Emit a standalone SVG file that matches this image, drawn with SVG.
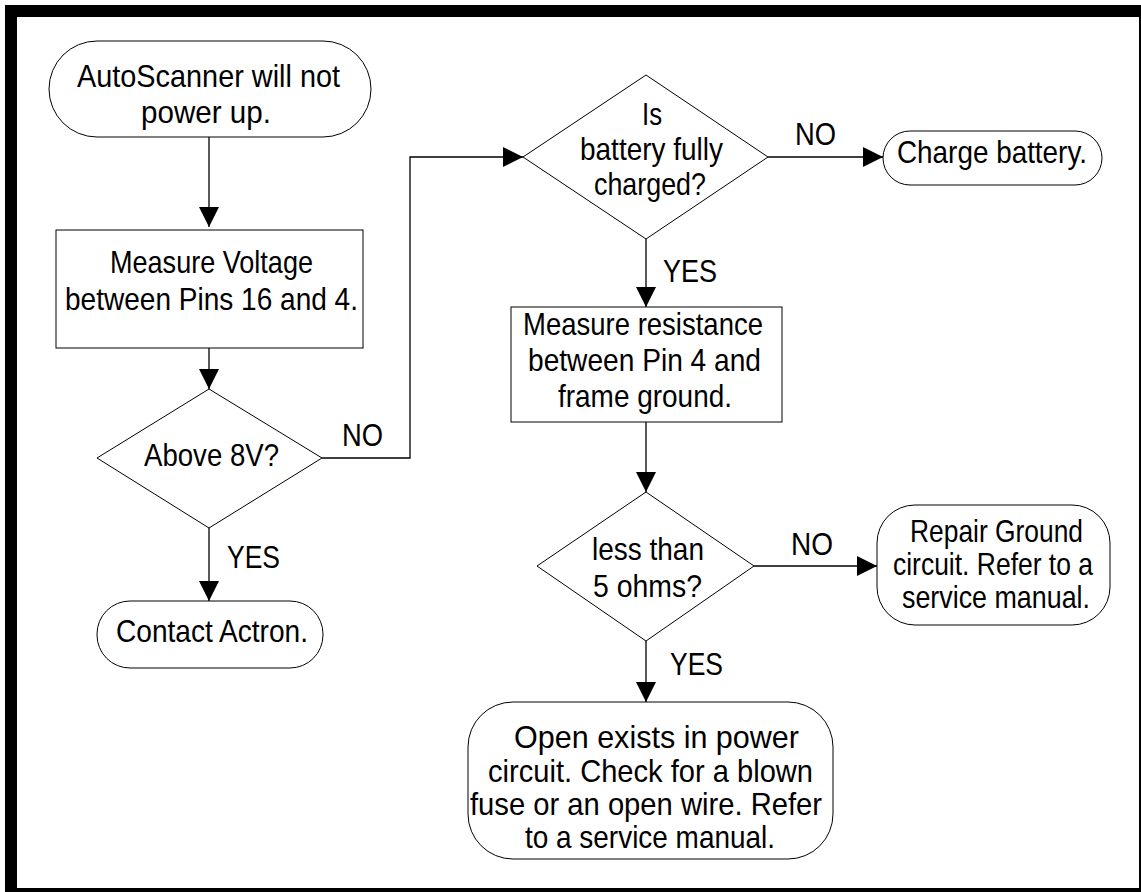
<svg xmlns="http://www.w3.org/2000/svg" width="1141" height="892" viewBox="0 0 1141 892">
<defs>
<style>
.t{font-family:"Liberation Sans Narrow","Liberation Sans",Arial,sans-serif;font-size:32px;fill:#000}
.s{fill:#fff;stroke:#000;stroke-width:1}
.c{fill:none;stroke:#000;stroke-width:1.3}
</style>
<marker id="ah" markerUnits="userSpaceOnUse" markerWidth="20" markerHeight="20" refX="20" refY="10" orient="auto" viewBox="0 0 20 20">
<path d="M0,0 L20,10 L0,20 Z" fill="#000"/>
</marker>
</defs>
<rect x="0" y="0" width="1141" height="892" fill="#fff"/>
<rect x="11" y="11" width="1134" height="883" fill="none" stroke="#000" stroke-width="12"/>

<g id="connectors">
<path class="c" d="M209,137 V227" marker-end="url(#ah)"/>
<path class="c" d="M209,348 V389" marker-end="url(#ah)"/>
<path class="c" d="M322,458 H410 V157 H523" marker-end="url(#ah)"/>
<path class="c" d="M209,528 V601" marker-end="url(#ah)"/>
<path class="c" d="M768,157 H883" marker-end="url(#ah)"/>
<path class="c" d="M646,239 V307" marker-end="url(#ah)"/>
<path class="c" d="M646,422 V492" marker-end="url(#ah)"/>
<path class="c" d="M754,566 H877" marker-end="url(#ah)"/>
<path class="c" d="M646,641 V702" marker-end="url(#ah)"/>
<text class="t" x="342" y="446" textLength="41" lengthAdjust="spacingAndGlyphs">NO</text>
<text class="t" x="227" y="568" textLength="53" lengthAdjust="spacingAndGlyphs">YES</text>
<text class="t" x="795" y="145" textLength="41" lengthAdjust="spacingAndGlyphs">NO</text>
<text class="t" x="663" y="282" textLength="54" lengthAdjust="spacingAndGlyphs">YES</text>
<text class="t" x="791" y="555" textLength="42" lengthAdjust="spacingAndGlyphs">NO</text>
<text class="t" x="670" y="675" textLength="53" lengthAdjust="spacingAndGlyphs">YES</text>
</g>

<g id="start">
<rect class="s" x="49" y="41" width="322" height="96" rx="48"/>
<text class="t" x="77" y="87" textLength="263" lengthAdjust="spacingAndGlyphs">AutoScanner will not</text>
<text class="t" x="141" y="123" textLength="130" lengthAdjust="spacingAndGlyphs">power up.</text>
</g>

<g id="measure-voltage">
<rect class="s" x="56" y="230" width="307" height="118"/>
<text class="t" x="110" y="273" textLength="203" lengthAdjust="spacingAndGlyphs">Measure Voltage</text>
<text class="t" x="65" y="310" textLength="293" lengthAdjust="spacingAndGlyphs">between Pins 16 and 4.</text>
</g>

<g id="above-8v">
<polygon class="s" points="209,389 322,458 209,528 97,458"/>
<text class="t" x="144" y="466" textLength="135" lengthAdjust="spacingAndGlyphs">Above 8V?</text>
</g>

<g id="contact-actron">
<rect class="s" x="97" y="601" width="226" height="67" rx="33"/>
<text class="t" x="116" y="642" textLength="192" lengthAdjust="spacingAndGlyphs">Contact Actron.</text>
</g>

<g id="battery-charged">
<polygon class="s" points="646,75 768,157 646,239 523,157"/>
<text class="t" x="642" y="125" textLength="20" lengthAdjust="spacingAndGlyphs">Is</text>
<text class="t" x="580" y="160" textLength="143" lengthAdjust="spacingAndGlyphs">battery fully</text>
<text class="t" x="594" y="195" textLength="112" lengthAdjust="spacingAndGlyphs">charged?</text>
</g>

<g id="charge-battery">
<rect class="s" x="883" y="131" width="219" height="54" rx="27"/>
<text class="t" x="897" y="163" textLength="190" lengthAdjust="spacingAndGlyphs">Charge battery.</text>
</g>

<g id="measure-resistance">
<rect class="s" x="511" y="307" width="271" height="115"/>
<text class="t" x="523" y="335" textLength="240" lengthAdjust="spacingAndGlyphs">Measure resistance</text>
<text class="t" x="528" y="371" textLength="233" lengthAdjust="spacingAndGlyphs">between Pin 4 and</text>
<text class="t" x="558" y="407" textLength="174" lengthAdjust="spacingAndGlyphs">frame ground.</text>
</g>

<g id="less-than-5">
<polygon class="s" points="646,492 754,566 646,641 537,566"/>
<text class="t" x="592" y="560" textLength="112" lengthAdjust="spacingAndGlyphs">less than</text>
<text class="t" x="593" y="597" textLength="109" lengthAdjust="spacingAndGlyphs">5 ohms?</text>
</g>

<g id="repair-ground">
<rect class="s" x="877" y="505" width="233" height="120" rx="38"/>
<text class="t" x="910" y="542" textLength="173" lengthAdjust="spacingAndGlyphs">Repair Ground</text>
<text class="t" x="893" y="575" textLength="200" lengthAdjust="spacingAndGlyphs">circuit. Refer to a</text>
<text class="t" x="902" y="608" textLength="188" lengthAdjust="spacingAndGlyphs">service manual.</text>
</g>

<g id="open-exists">
<rect class="s" x="468" y="702" width="365" height="157" rx="45"/>
<text class="t" x="514" y="748" textLength="285" lengthAdjust="spacingAndGlyphs">Open exists in power</text>
<text class="t" x="488" y="782" textLength="325" lengthAdjust="spacingAndGlyphs">circuit. Check for a blown</text>
<text class="t" x="470" y="815" textLength="352" lengthAdjust="spacingAndGlyphs">fuse or an open wire. Refer</text>
<text class="t" x="525" y="848" textLength="250" lengthAdjust="spacingAndGlyphs">to a service manual.</text>
</g>
</svg>
